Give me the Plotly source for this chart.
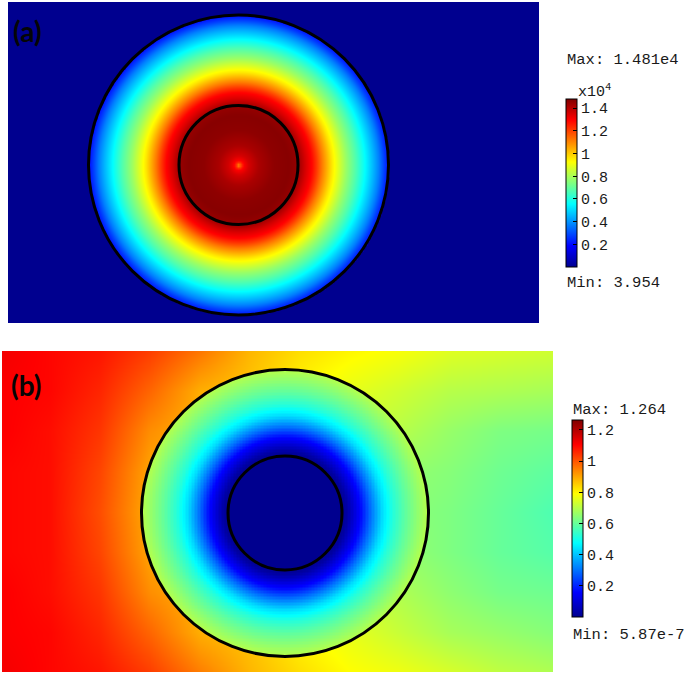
import numpy as np
import plotly.graph_objects as go

W, H = 685, 677

# ---------------- Panel (a) data ----------------
# radial profile: distance from the centre (px) -> value
a_r = [0, 2, 5, 10, 20, 35, 50, 59, 62, 67, 73, 78, 83, 88, 93, 100, 107, 117, 125, 135, 140, 145, 150]
a_v = [10500, 12000, 13000, 13600, 14200, 14600, 14700, 14500, 14100, 13500, 12900, 12100,
       11200, 10400, 9600, 8700, 7800, 6700, 5700, 4400, 3700, 2800, 2000]
a_outside = 3.954
a_min, a_max = 3.954, 14810
a_tickvals = [2000, 4000, 6000, 8000, 10000, 12000, 14000]
a_ticktext = ["0.2", "0.4", "0.6", "0.8", "1", "1.2", "1.4"]

# ---------------- Panel (b) data ----------------
b_r = [57, 62, 68, 76, 86, 97, 108, 120, 132, 143]
b_v = [0.0, 0.03, 0.09, 0.17, 0.30, 0.43, 0.52, 0.59, 0.65, 0.70]
b_inner = 5.87e-7
b_min, b_max = 5.87e-7, 1.264
b_grid_x = [0, 48, 98, 148, 198, 248, 298, 348, 398, 448, 498, 551]
b_grid_y = [0, 40, 80, 121, 161, 201, 241, 281, 321]
b_grid_z = [
    [1.12, 1.10, 1.08, 1.03, 0.96, 0.88, 0.83, 0.80, 0.78, 0.75, 0.74, 0.73],
    [1.11, 1.10, 1.06, 0.98, 0.89, 0.86, 0.80, 0.76, 0.73, 0.70, 0.69, 0.68],
    [1.11, 1.09, 1.04, 0.93, 0.88, 0.85, 0.80, 0.73, 0.70, 0.66, 0.63, 0.62],
    [1.10, 1.09, 1.02, 0.90, 0.88, 0.85, 0.80, 0.72, 0.66, 0.64, 0.61, 0.59],
    [1.10, 1.09, 1.01, 0.89, 0.88, 0.85, 0.80, 0.72, 0.65, 0.63, 0.60, 0.57],
    [1.10, 1.09, 1.02, 0.90, 0.88, 0.85, 0.80, 0.72, 0.66, 0.63, 0.60, 0.58],
    [1.11, 1.09, 1.04, 0.93, 0.88, 0.85, 0.80, 0.73, 0.69, 0.65, 0.62, 0.61],
    [1.11, 1.10, 1.06, 0.98, 0.89, 0.86, 0.80, 0.76, 0.72, 0.68, 0.66, 0.64],
    [1.12, 1.10, 1.08, 1.03, 0.95, 0.88, 0.83, 0.79, 0.77, 0.74, 0.71, 0.69],
]
b_tickvals = [0.2, 0.4, 0.6, 0.8, 1.0, 1.2]
b_ticktext = ["0.2", "0.4", "0.6", "0.8", "1", "1.2"]

# ---------------- geometry / layout constants ----------------
A_BOX = (8, 2, 539, 323)      # pixel box of panel (a): left, top, right, bottom
B_BOX = (2, 351, 553, 672)
A_C, A_R_OUT, A_R_IN = (230.5, 163.0), 150.0, 59.5
B_C, B_R_OUT, B_R_IN = (283.0, 162.0), 143.5, 57.0

jet = [[0.0, "rgb(0,0,143)"], [0.125, "rgb(0,0,255)"], [0.375, "rgb(0,255,255)"],
       [0.625, "rgb(255,255,0)"], [0.875, "rgb(255,0,0)"], [1.0, "rgb(128,0,0)"]]

MONO = "Liberation Mono"
TXT = "#1a1a1a"

def px_x(x):
    return x / W

def px_y(y):
    return 1 - y / H

fig = go.Figure()

# ---- panel (a) field ----
aw, ah = A_BOX[2] - A_BOX[0], A_BOX[3] - A_BOX[1]
ax_ = np.arange(0, aw + 1, 2.0)
ay_ = np.arange(0, ah + 1, 2.0)
XX, YY = np.meshgrid(ax_, ay_)
RR = np.hypot(XX - A_C[0], YY - A_C[1])
za = np.interp(RR, a_r, a_v)
za[RR > A_R_OUT] = a_outside
fig.add_trace(go.Heatmap(x=ax_, y=ay_, z=np.round(za, 1), coloraxis="coloraxis",
                         zsmooth="best", xaxis="x", yaxis="y", hoverinfo="skip"))

# ---- panel (b) background field ----
fig.add_trace(go.Heatmap(x=b_grid_x, y=b_grid_y, z=b_grid_z, coloraxis="coloraxis2",
                         zsmooth="best", xaxis="x2", yaxis="y2", hoverinfo="skip"))

# ---- panel (b) annulus + inner disc ----
bx_ = np.arange(B_C[0] - 146, B_C[0] + 147, 1.5)
by_ = np.arange(B_C[1] - 146, B_C[1] + 147, 1.5)
BX, BY = np.meshgrid(bx_, by_)
BR = np.hypot(BX - B_C[0], BY - B_C[1])
zb = np.interp(BR, b_r, b_v)
zb[BR < B_R_IN] = b_inner
zb[BR > B_R_OUT] = np.nan
zb = np.round(zb, 4)
fig.add_trace(go.Heatmap(x=bx_, y=by_, z=zb, coloraxis="coloraxis2",
                         zsmooth=False, xaxis="x2", yaxis="y2", hoverinfo="skip"))

# ---- circles ----
shapes = []
for (c, r, xr, yr) in [(A_C, A_R_OUT, "x", "y"), (A_C, A_R_IN, "x", "y"),
                       (B_C, B_R_OUT, "x2", "y2"), (B_C, B_R_IN, "x2", "y2")]:
    shapes.append(dict(type="circle", xref=xr, yref=yr,
                       x0=c[0] - r, x1=c[0] + r, y0=c[1] - r, y1=c[1] + r,
                       line=dict(color="black", width=3)))

def cbar(top, bottom, left, tickvals, ticktext):
    return dict(
        x=px_x(left), xanchor="left", xpad=0,
        y=px_y(top), yanchor="top", ypad=0,
        len=bottom - top, lenmode="pixels", thickness=11, thicknessmode="pixels",
        outlinewidth=1, outlinecolor="black",
        tickvals=tickvals, ticktext=ticktext,
        ticks="inside", ticklen=4, tickcolor="black", tickwidth=1,
        tickfont=dict(family=MONO, size=15, color=TXT),
    )

ann = []
def txt(x, y, s, size=15.5, **kw):
    ann.append(dict(x=px_x(x), y=px_y(y), xref="paper", yref="paper", text=s,
                    showarrow=False, xanchor="left", yanchor="middle",
                    font=dict(family=MONO, size=size, color=TXT), **kw))

txt(565, 60, "Max: 1.481e4")
txt(576, 91, "x10<sup>4</sup>", size=15)
txt(565, 283, "Min: 3.954")
txt(571, 410, "Max: 1.264")
txt(571, 635, "Min: 5.87e-7")

for s, x, y in [("(a)", 11, 31), ("(b)", 9, 385)]:
    ann.append(dict(x=px_x(x), y=px_y(y), xref="paper", yref="paper", text="<b>" + s + "</b>",
                    showarrow=False, xanchor="left", yanchor="middle",
                    font=dict(family="Lato", size=28, color="#050505")))

hidden = dict(visible=False, showgrid=False, zeroline=False)
fig.update_layout(
    width=W, height=H, margin=dict(l=0, r=0, t=0, b=0, pad=0, autoexpand=False),
    paper_bgcolor="white", plot_bgcolor="white", showlegend=False,
    xaxis=dict(domain=[px_x(A_BOX[0]), px_x(A_BOX[2])], range=[0, aw], **hidden),
    yaxis=dict(domain=[px_y(A_BOX[3]), px_y(A_BOX[1])], range=[ah, 0], **hidden),
    xaxis2=dict(domain=[px_x(B_BOX[0]), px_x(B_BOX[2])], range=[0, B_BOX[2] - B_BOX[0]],
                anchor="y2", **hidden),
    yaxis2=dict(domain=[px_y(B_BOX[3]), px_y(B_BOX[1])], range=[B_BOX[3] - B_BOX[1], 0],
                anchor="x2", **hidden),
    coloraxis=dict(colorscale=jet, cmin=a_min, cmax=a_max,
                   colorbar=cbar(99, 267, 566, a_tickvals, a_ticktext)),
    coloraxis2=dict(colorscale=jet, cmin=b_min, cmax=b_max,
                    colorbar=cbar(420, 617, 572, b_tickvals, b_ticktext)),
    shapes=shapes, annotations=ann,
)

fig.write_html("out.html", config={"displayModeBar": False},
               post_script="document.body.style.margin='0';document.body.style.overflow='hidden';")
